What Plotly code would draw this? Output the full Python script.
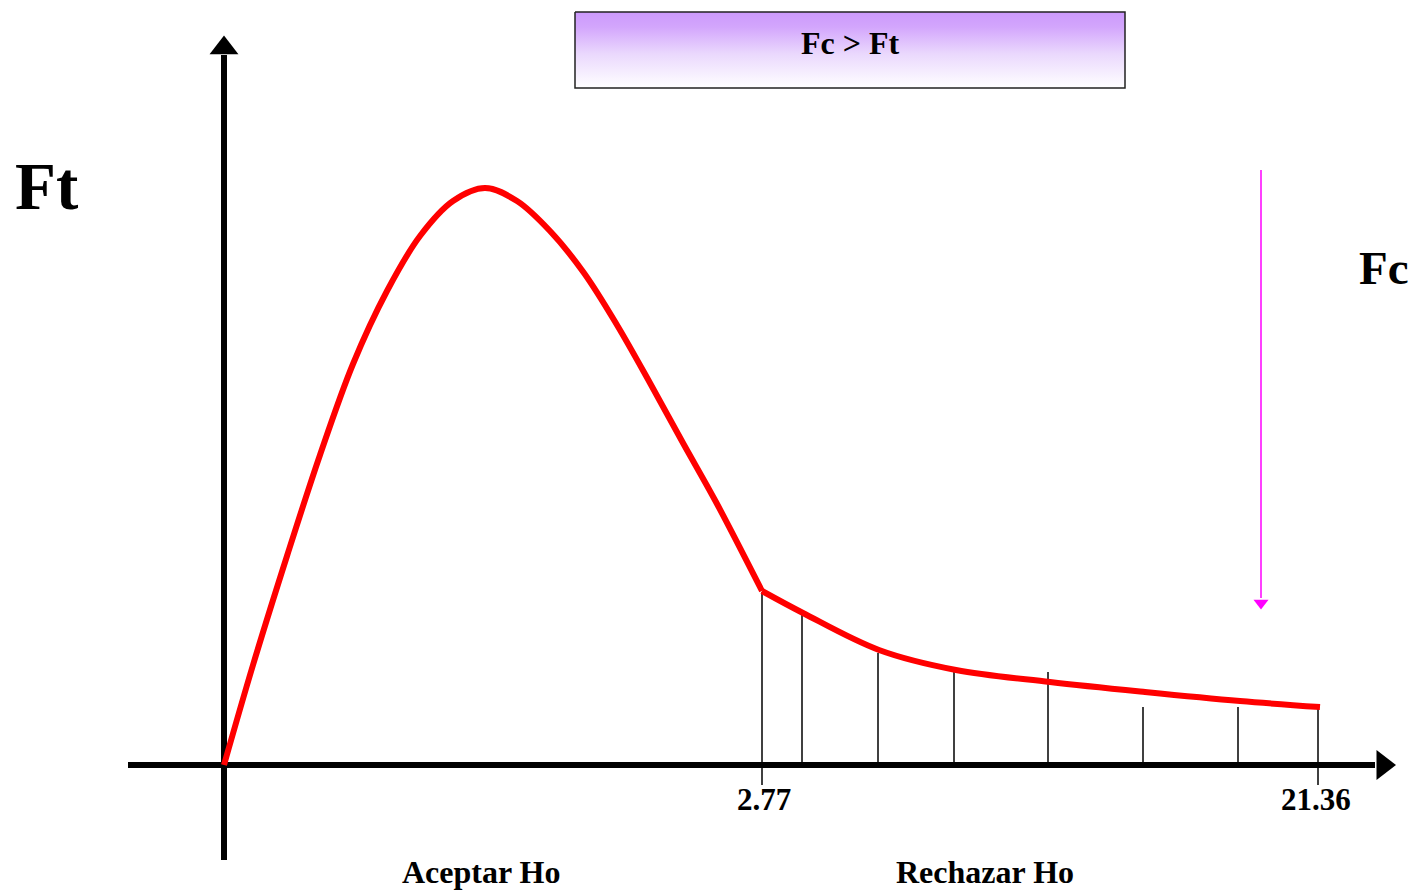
import plotly.graph_objects as go

# Diagram coordinates (x to the right, y downward like the page)
curve_rise_x = [224, 253, 287, 320, 353, 387, 420, 453, 485, 517, 550, 584, 617, 650, 683, 716, 762]
curve_rise_y = [765, 665, 556, 455, 364, 291, 236, 201, 188, 201, 231, 273, 325, 383, 443, 502, 591]
curve_tail_x = [762, 803, 879, 956, 1050, 1145, 1240, 1320]
curve_tail_y = [591, 613, 650, 670, 682, 692, 701, 707]

hatch_x = [762, 802, 878, 954, 1048, 1143, 1238, 1318]
hatch_top = [592, 611, 653, 672, 672, 707, 707, 707]
hatch_bottom = [785, 765, 765, 765, 765, 765, 765, 785]

tick_labels = ["2.77", "21.36"]
tick_x = [764, 1316]

region_labels = ["Aceptar Ho", "Rechazar Ho"]
region_x = [481, 985]

box_x = [575, 1125]
box_y = [12, 88]

FONT = "Liberation Serif"

fig = go.Figure()

# gradient box
fig.add_trace(go.Scatter(
    x=[box_x[0], box_x[1], box_x[1], box_x[0], box_x[0]],
    y=[box_y[0], box_y[0], box_y[1], box_y[1], box_y[0]],
    mode="lines", fill="toself",
    line=dict(color="#222222", width=1.5),
    fillgradient=dict(type="vertical", start=box_y[1], stop=box_y[0],
                      colorscale=[[0, "#ffffff"], [0.45, "#ead8fd"], [0.8, "#d3a6fc"], [1, "#cc99fc"]]),
    hoverinfo="skip", showlegend=False))

# hatch lines
hx, hy = [], []
for x, t, b in zip(hatch_x, hatch_top, hatch_bottom):
    hx += [x, x, None]
    hy += [t, b, None]
fig.add_trace(go.Scatter(x=hx, y=hy, mode="lines", line=dict(color="black", width=1.5),
                         hoverinfo="skip", showlegend=False))

# axes lines
fig.add_trace(go.Scatter(x=[128, 1375], y=[765, 765], mode="lines",
                         line=dict(color="black", width=6), hoverinfo="skip", showlegend=False))
fig.add_trace(go.Scatter(x=[224, 224], y=[860, 55], mode="lines",
                         line=dict(color="black", width=6), hoverinfo="skip", showlegend=False))
# arrow heads
fig.add_trace(go.Scatter(x=[1383], y=[765], mode="markers",
                         marker=dict(symbol="triangle-right", size=26, color="black"),
                         hoverinfo="skip", showlegend=False))
fig.add_trace(go.Scatter(x=[224], y=[48], mode="markers",
                         marker=dict(symbol="triangle-up", size=25, color="black"),
                         hoverinfo="skip", showlegend=False))

# magenta arrow
fig.add_trace(go.Scatter(x=[1261, 1261], y=[170, 598], mode="lines",
                         line=dict(color="#ff00ff", width=1.5), hoverinfo="skip", showlegend=False))
fig.add_trace(go.Scatter(x=[1261], y=[603], mode="markers",
                         marker=dict(symbol="triangle-down", size=13, color="#ff00ff"),
                         hoverinfo="skip", showlegend=False))

# red curve (two smooth pieces meeting at the 2.77 kink)
for cx, cy in [(curve_rise_x, curve_rise_y), (curve_tail_x, curve_tail_y)]:
    fig.add_trace(go.Scatter(x=cx, y=cy, mode="lines",
                             line=dict(color="#ff0000", width=6, shape="spline", smoothing=1.0),
                             hoverinfo="skip", showlegend=False))

ann = []
ann.append(dict(x=850, y=43, text="<b>Fc > Ft</b>", font=dict(size=32)))
ann.append(dict(x=47, y=186, text="<b>Ft</b>", font=dict(size=67)))
ann.append(dict(x=1384, y=268, text="<b>Fc</b>", font=dict(size=47)))
for t, x in zip(tick_labels, tick_x):
    ann.append(dict(x=x, y=799, text="<b>%s</b>" % t, font=dict(size=31)))
for t, x in zip(region_labels, region_x):
    ann.append(dict(x=x, y=872, text="<b>%s</b>" % t, font=dict(size=32)))
for a in ann:
    a.update(xref="x", yref="y", showarrow=False, xanchor="center", yanchor="middle")
    a["font"].update(family=FONT, color="black")

fig.update_layout(
    width=1414, height=890,
    margin=dict(l=0, r=0, t=0, b=0),
    paper_bgcolor="white", plot_bgcolor="white",
    annotations=ann,
    xaxis=dict(range=[0, 1414], visible=False, fixedrange=True),
    yaxis=dict(range=[890, 0], visible=False, fixedrange=True),
)

fig.write_html("out.html", config={"displayModeBar": False},
               post_script="document.body.style.margin='0';document.body.style.overflow='hidden';")
